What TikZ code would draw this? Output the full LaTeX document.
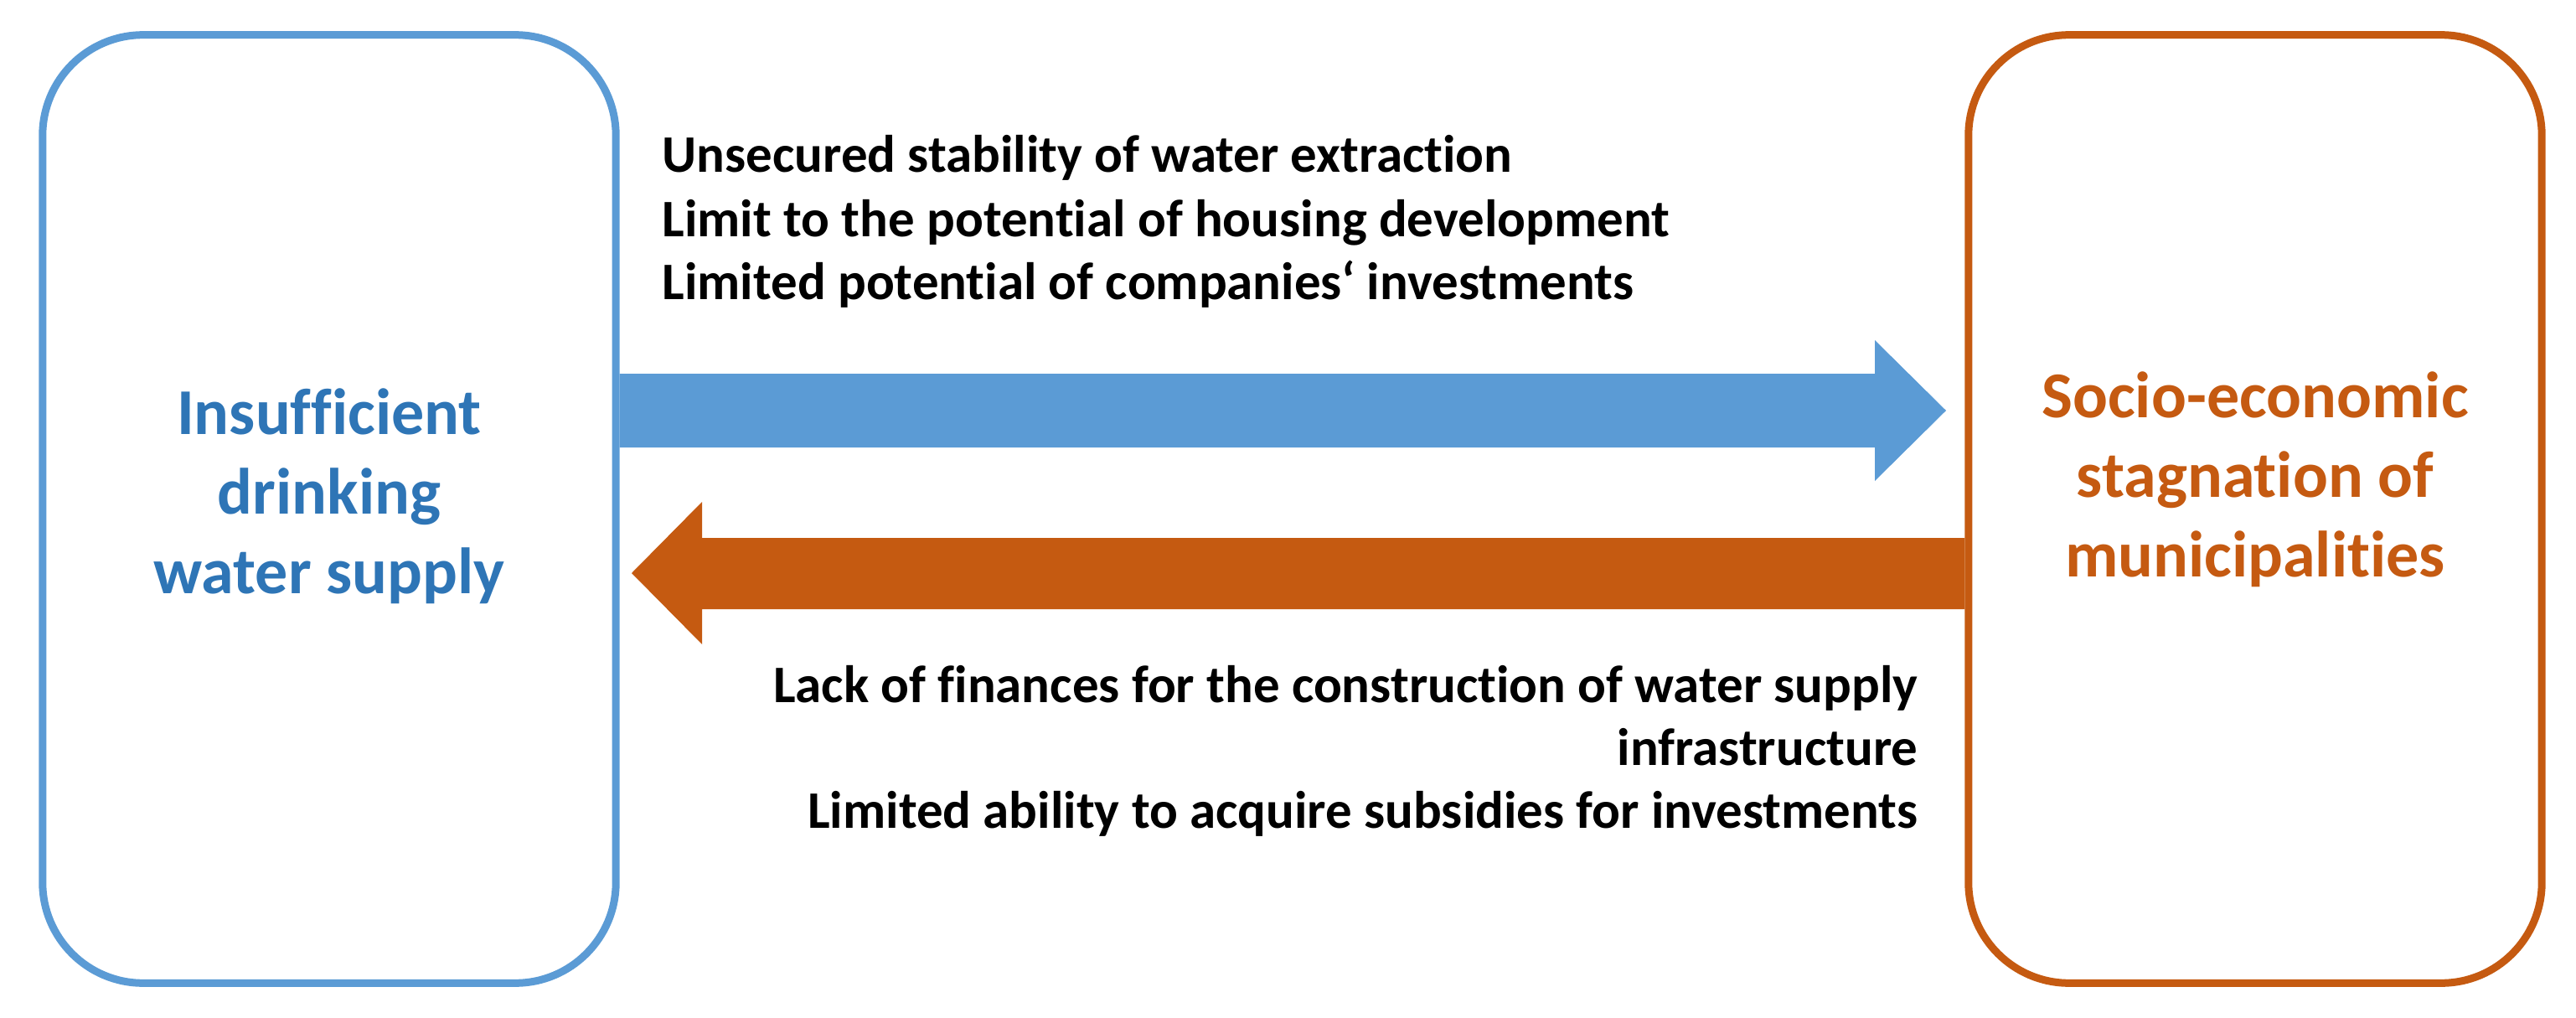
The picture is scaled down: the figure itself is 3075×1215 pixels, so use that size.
\documentclass[tikz,border=0pt]{standalone}
\usepackage{fontspec}
\setmainfont[Ligatures=NoCommon]{Carlito}
\usetikzlibrary{calc}
\definecolor{bluebox}{HTML}{5B9BD5}
\definecolor{bluetext}{HTML}{2E75B6}
\definecolor{orangebox}{HTML}{C55A11}
\definecolor{orangetext}{HTML}{C55A11}
\tikzset{
  bigbox/.style={draw, line width=0.09cm, rounded corners=1.2cm, minimum width=6.84cm, minimum height=11.31cm, inner sep=0pt},
  boxlabel/.style={align=center, font=\bfseries\fontsize{22.2}{27}\selectfont, inner sep=0pt},
  effect/.style={font=\bfseries\fontsize{17.9}{21.6}\selectfont, inner sep=0pt, text=black},
}
\begin{document}
\begin{tikzpicture}[x=0.01cm, y=-0.01cm]
\useasboundingbox (0,0) rectangle (3075,1215);
% boxes
\node[bigbox, draw=bluebox] (L) at (393,607.5) {};
\node[bigbox, draw=orangebox] (R) at (2692,607.5) {};
\node[boxlabel, text=bluetext] (Lt) at (393,592) {Insufficient\\drinking\\water supply};
\node[boxlabel, text=orangetext] (Rt) at (2692,572) {Socio-economic\\stagnation of\\municipalities};
% arrow end points
\coordinate (btip) at (2323,490);
\coordinate (otip) at (754,684);
% blue arrow L -> R
\fill[bluebox] (L.east |- 0,446) -- (2238,446) -- (2238,406) -- (btip) -- (2238,574) -- (2238,534) -- (L.east |- 0,534) -- cycle;
% orange arrow R -> L
\fill[orangebox] (R.west |- 0,642) -- (838,642) -- (838,599) -- (otip) -- (838,769) -- (838,727) -- (R.west |- 0,727) -- cycle;
% texts
\node[effect, anchor=base west] (t1) at (790,205) {Unsecured stability of water extraction};
\node[effect, anchor=base west] (t2) at (790,282) {Limit to the potential of housing development};
\node[effect, anchor=base west] (t3) at (790,357) {Limited potential of companies‘ investments};
\node[effect, anchor=base east] (b1) at (2290,838) {Lack of finances for the construction of water supply};
\node[effect, anchor=base east] (b2) at (2290,913) {infrastructure};
\node[effect, anchor=base east] (b3) at (2290,988) {Limited ability to acquire subsidies for investments};
\end{tikzpicture}
\end{document}
